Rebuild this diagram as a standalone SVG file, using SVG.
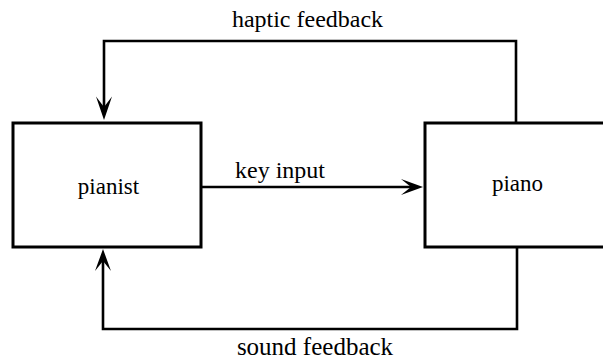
<svg xmlns="http://www.w3.org/2000/svg" width="603" height="360" viewBox="0 0 603 360">
  <style>
    .box { fill: #fff; stroke: #000; stroke-width: 3; }
    .wire { fill: none; stroke: #000; stroke-width: 2.6; }
    .head { fill: #000; stroke: none; }
    .lbl { font-family: 'Liberation Serif', Tinos, Times, serif; font-size: 24px; fill: #000; }
    .name { font-size: 23px; }
  </style>

  <g id="pianist">
    <rect class="box" x="13" y="123" width="188" height="124"/>
    <text class="lbl name" x="108.5" y="194" text-anchor="middle">pianist</text>
  </g>

  <g id="piano">
    <rect class="box" x="425" y="123" width="200" height="124"/>
    <text class="lbl name" x="517.5" y="191" text-anchor="middle">piano</text>
  </g>

  <g id="connectors">
    <!-- haptic feedback: piano top back to pianist top -->
    <path class="wire" d="M516 122 V41 H104 V108"/>
    <path class="head" d="M104 120 L96 96.5 L104 107 L112 96.5 Z"/>
    <text class="lbl" x="307.5" y="27" text-anchor="middle">haptic feedback</text>

    <!-- key input: pianist to piano -->
    <path class="wire" d="M201 187 H412"/>
    <path class="head" d="M423 187 L401 179 L411 187 L401 195 Z"/>
    <text class="lbl" x="280" y="178" text-anchor="middle">key input</text>

    <!-- sound feedback: piano bottom back to pianist bottom -->
    <path class="wire" d="M517 248 V329 H103 V261"/>
    <path class="head" d="M103 249 L95 271 L103 261 L111 271 Z"/>
    <text class="lbl" x="315" y="355" text-anchor="middle" style="font-size:25px">sound feedback</text>
  </g>
</svg>
